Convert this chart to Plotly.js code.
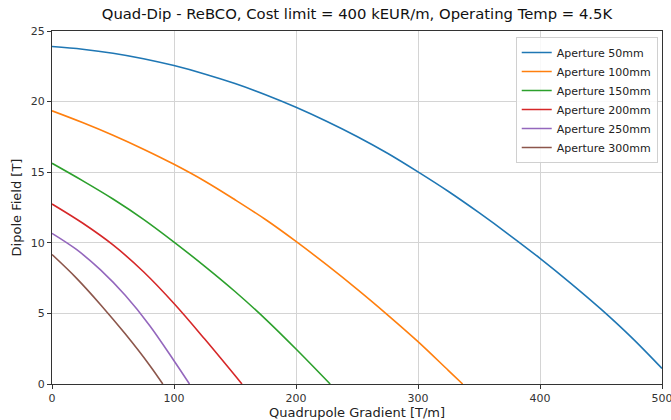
<!DOCTYPE html>
<html>
<head>
<meta charset="utf-8">
<script src="https://cdn.plot.ly/plotly-3.0.1.min.js"></script>
<style>html,body{margin:0;padding:0;background:#fff;}#chart{width:671px;height:420px;}</style>
</head>
<body>
<div id="chart"></div>
<script>
// Data
const seriesNames = ["Aperture 50mm", "Aperture 100mm", "Aperture 150mm", "Aperture 200mm", "Aperture 250mm", "Aperture 300mm"];

const grad50 = [0, 25, 50, 75, 100, 125, 150, 175, 200, 225, 250, 275, 300, 325, 350, 375, 400, 425, 450, 475, 500];
const field50 = [23.9, 23.71, 23.43, 23.04, 22.55, 21.96, 21.28, 20.49, 19.6, 18.61, 17.53, 16.34, 15.02, 13.63, 12.13, 10.55, 8.9, 7.15, 5.3, 3.3, 1.1];

const grad100 = [0, 25, 50, 75, 100, 125, 150, 175, 200, 225, 250, 275, 300, 325, 336.6];
const field100 = [19.35, 18.52, 17.62, 16.63, 15.56, 14.38, 13.05, 11.65, 10.1, 8.45, 6.72, 4.9, 3.0, 0.95, 0];

const grad150 = [0, 25, 50, 75, 100, 125, 150, 175, 200, 228];
const field150 = [15.63, 14.4, 13.1, 11.66, 10.05, 8.35, 6.55, 4.6, 2.48, 0];

const grad200 = [0, 25, 50, 75, 100, 125, 155.7];
const field200 = [12.75, 11.4, 9.85, 7.95, 5.7, 3.2, 0];

const grad250 = [0, 20, 40, 60, 80, 100, 112.7];
const field250 = [10.67, 9.53, 8.06, 6.28, 4.15, 1.65, 0];

const grad300 = [0, 20, 40, 60, 80, 90.8];
const field300 = [9.17, 7.5, 5.6, 3.55, 1.33, 0];

const xTicks = [0, 100, 200, 300, 400, 500];
const yTicks = [0, 5, 10, 15, 20, 25];

const colors = ["#1f77b4", "#ff7f0e", "#2ca02c", "#d62728", "#9467bd", "#8c564b"];

const xs = [grad50, grad100, grad150, grad200, grad250, grad300];
const ys = [field50, field100, field150, field200, field250, field300];

const traces = seriesNames.map((name, i) => ({
  x: xs[i], y: ys[i], name: name, type: "scatter", mode: "lines",
  line: {color: colors[i], width: 1.6, shape: "spline", smoothing: 1}
}));

const font = "DejaVu Sans, sans-serif";
const layout = {
  width: 671, height: 420,
  margin: {l: 52, r: 9, t: 31, b: 36},
  paper_bgcolor: "#fff", plot_bgcolor: "#fff",
  font: {family: font, color: "#222", size: 11},
  title: {text: "Quad-Dip - ReBCO, Cost limit = 400 kEUR/m, Operating Temp = 4.5K",
          font: {family: font, size: 14.8, color: "#111"}, x: 0.532, xanchor: "center", y: 0.967, yanchor: "middle"},
  xaxis: {
    range: [0, 500], tickvals: xTicks,
    showgrid: true, gridcolor: "#d4d4d4", gridwidth: 1,
    showline: true, linecolor: "#333", linewidth: 1, mirror: true,
    ticks: "outside", ticklen: 4, tickcolor: "#333",
    ticklabeloverflow: "allow",
    zeroline: false, tickfont: {size: 11, color: "#333"},
    title: {text: "Quadrupole Gradient [T/m]", font: {size: 13, color: "#222"}, standoff: 4}
  },
  yaxis: {
    range: [0, 25], tickvals: yTicks,
    showgrid: true, gridcolor: "#d4d4d4", gridwidth: 1,
    showline: true, linecolor: "#333", linewidth: 1, mirror: true,
    ticks: "outside", ticklen: 4, tickcolor: "#333",
    zeroline: false, tickfont: {size: 11, color: "#333"},
    title: {text: "Dipole Field [T]", font: {size: 13, color: "#222"}, standoff: 6}
  },
  legend: {
    x: 0.993, xanchor: "right", y: 0.983, yanchor: "top",
    bgcolor: "rgba(255,255,255,0.85)", bordercolor: "#d0d0d0", borderwidth: 1,
    font: {size: 11, color: "#222"}, tracegroupgap: 0
  },
  showlegend: true
};

Plotly.newPlot("chart", traces, layout, {displayModeBar: false, staticPlot: true});
</script>
</body>
</html>
